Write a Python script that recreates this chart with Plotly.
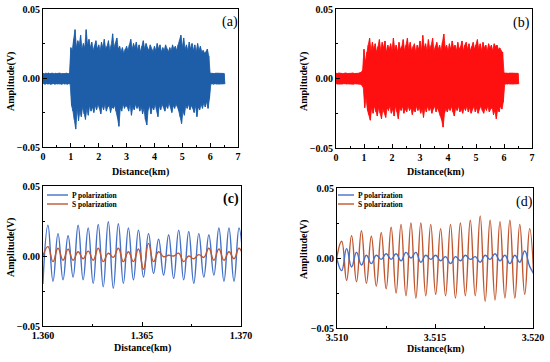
import numpy as np
import plotly.graph_objects as go

# ---------------- data ----------------
# Panels (a)/(b): envelope of the full trace, read per 0.05 km bin (0.00 ... 6.50 km)
bin_km = np.round(np.arange(131) * 0.05, 2)

a_upper = (
    [0.0033, 0.0030, 0.0035, 0.0032, 0.0036, 0.0031, 0.0034, 0.0035, 0.0030, 0.0034,
     0.0032, 0.0033, 0.0036, 0.0031, 0.0034, 0.0032, 0.0033, 0.0035, 0.0031, 0.0034]
    + [0.022, 0.020, 0.028, 0.035, 0.022, 0.027, 0.024, 0.031, 0.021, 0.025,
       0.022, 0.035, 0.024, 0.028, 0.022, 0.026, 0.020, 0.023, 0.027, 0.021,
       0.024, 0.020, 0.026, 0.022, 0.028, 0.021, 0.023, 0.027, 0.020, 0.024,
       0.032, 0.022, 0.025, 0.029, 0.021, 0.023, 0.019, 0.022, 0.018, 0.021,
       0.023, 0.020, 0.024, 0.028, 0.021, 0.025, 0.022, 0.026, 0.020, 0.024,
       0.019, 0.023, 0.027, 0.021, 0.025, 0.022, 0.020, 0.024, 0.021, 0.019,
       0.023, 0.020, 0.025, 0.021, 0.024, 0.019, 0.022, 0.020, 0.024, 0.021,
       0.019, 0.022, 0.020, 0.024, 0.021, 0.023, 0.020, 0.024, 0.027, 0.031,
       0.022, 0.029, 0.021, 0.024, 0.020, 0.026, 0.021, 0.025, 0.020, 0.024,
       0.019, 0.025, 0.020, 0.023, 0.019, 0.020, 0.018, 0.019, 0.021, 0.016]
    + [0.0035, 0.0033, 0.0036, 0.0032, 0.0035, 0.0034, 0.0036, 0.0033, 0.0035, 0.0034, 0.0033]
)
a_lower = (
    [-0.0042, -0.0045, -0.0040, -0.0044, -0.0041, -0.0046, -0.0043, -0.0040, -0.0045, -0.0042,
     -0.0044, -0.0041, -0.0043, -0.0046, -0.0040, -0.0044, -0.0042, -0.0045, -0.0041, -0.0043]
    + [-0.020, -0.024, -0.030, -0.037, -0.022, -0.031, -0.024, -0.028, -0.021, -0.026,
       -0.030, -0.022, -0.027, -0.020, -0.024, -0.021, -0.025, -0.020, -0.023, -0.019,
       -0.022, -0.026, -0.020, -0.023, -0.019, -0.024, -0.021, -0.020, -0.025, -0.021,
       -0.022, -0.020, -0.024, -0.029, -0.035, -0.022, -0.024, -0.019, -0.022, -0.020,
       -0.021, -0.024, -0.019, -0.027, -0.021, -0.023, -0.019, -0.022, -0.020, -0.024,
       -0.021, -0.026, -0.022, -0.030, -0.034, -0.023, -0.020, -0.026, -0.021, -0.023,
       -0.019, -0.022, -0.028, -0.020, -0.023, -0.019, -0.021, -0.024, -0.020, -0.022,
       -0.018, -0.021, -0.025, -0.020, -0.022, -0.019, -0.021, -0.024, -0.028, -0.033,
       -0.024, -0.027, -0.020, -0.022, -0.019, -0.023, -0.020, -0.022, -0.025, -0.020,
       -0.028, -0.021, -0.023, -0.019, -0.022, -0.018, -0.021, -0.017, -0.022, -0.015]
    + [-0.0044, -0.0042, -0.0045, -0.0041, -0.0044, -0.0043, -0.0045, -0.0042, -0.0044, -0.0043, -0.0042]
)

b_upper = (
    [0.0038, 0.0036, 0.0040, 0.0037, 0.0039, 0.0035, 0.0038, 0.0040, 0.0036, 0.0039,
     0.0037, 0.0038, 0.0040, 0.0036, 0.0039, 0.0037, 0.0038, 0.0041, 0.0045, 0.0060]
    + [0.021, 0.012, 0.019, 0.024, 0.029, 0.020, 0.026, 0.021, 0.025, 0.019,
       0.023, 0.028, 0.020, 0.026, 0.022, 0.027, 0.019, 0.024, 0.021, 0.025,
       0.020, 0.029, 0.021, 0.024, 0.019, 0.026, 0.021, 0.023, 0.028, 0.020,
       0.024, 0.029, 0.021, 0.026, 0.020, 0.023, 0.025, 0.019, 0.024, 0.021,
       0.027, 0.020, 0.031, 0.022, 0.025, 0.020, 0.028, 0.021, 0.024, 0.029,
       0.020, 0.023, 0.026, 0.021, 0.024, 0.020, 0.026, 0.032, 0.022, 0.024,
       0.020, 0.025, 0.021, 0.027, 0.022, 0.024, 0.020, 0.026, 0.021, 0.023,
       0.027, 0.020, 0.024, 0.026, 0.021, 0.025, 0.020, 0.023, 0.026, 0.021,
       0.024, 0.028, 0.021, 0.025, 0.020, 0.026, 0.022, 0.024, 0.020, 0.025,
       0.022, 0.024, 0.020, 0.025, 0.023, 0.024, 0.021, 0.022, 0.020, 0.019]
    + [0.0040, 0.0038, 0.0040, 0.0037, 0.0039, 0.0038, 0.0040, 0.0037, 0.0039, 0.0038, 0.0037]
)
b_lower = (
    [-0.0040, -0.0038, -0.0041, -0.0039, -0.0040, -0.0037, -0.0040, -0.0041, -0.0038, -0.0040,
     -0.0039, -0.0040, -0.0041, -0.0038, -0.0040, -0.0039, -0.0040, -0.0042, -0.0048, -0.0065]
    + [-0.021, -0.014, -0.023, -0.026, -0.030, -0.021, -0.025, -0.020, -0.024, -0.027,
       -0.021, -0.025, -0.029, -0.022, -0.024, -0.028, -0.021, -0.023, -0.020, -0.025,
       -0.022, -0.027, -0.020, -0.024, -0.029, -0.021, -0.023, -0.020, -0.025, -0.022,
       -0.024, -0.020, -0.023, -0.021, -0.026, -0.022, -0.024, -0.020, -0.023, -0.021,
       -0.025, -0.022, -0.028, -0.021, -0.024, -0.020, -0.023, -0.021, -0.025, -0.022,
       -0.020, -0.024, -0.021, -0.023, -0.027, -0.030, -0.035, -0.025, -0.022, -0.024,
       -0.021, -0.023, -0.020, -0.024, -0.027, -0.021, -0.023, -0.020, -0.024, -0.022,
       -0.025, -0.021, -0.023, -0.020, -0.024, -0.021, -0.025, -0.022, -0.020, -0.024,
       -0.021, -0.025, -0.022, -0.020, -0.023, -0.025, -0.021, -0.023, -0.020, -0.024,
       -0.022, -0.021, -0.026, -0.023, -0.029, -0.022, -0.024, -0.020, -0.022, -0.017]
    + [-0.0041, -0.0039, -0.0041, -0.0038, -0.0040, -0.0039, -0.0041, -0.0038, -0.0040, -0.0039, -0.0038]
)

# Panels (c)/(d): successive extrema (trough, peak, trough, ...) of the zoomed traces
c_dist = np.linspace(1.359996, 1.370154, 41)
c_p_polar = [-0.020,
             0.022, -0.018, 0.016, -0.017, 0.0145, -0.015, 0.022, -0.017, 0.020, -0.0195,
             0.0225, -0.022, 0.0245, -0.023, 0.023, -0.0195, 0.020, -0.017, 0.0185, -0.015,
             0.016, -0.0124, 0.012, -0.0136, 0.015, -0.016, 0.0185, -0.017, 0.0175, -0.0195,
             0.016, -0.015, 0.015, -0.0136, 0.020, -0.018, 0.020, -0.018, 0.020, -0.018]
c_s_polar = [0.000,
             0.0067, -0.004, 0.0055, -0.003, 0.0048, -0.003, 0.003, -0.002, 0.0035, -0.003,
             0.0055, -0.004, 0.002, -0.001, 0.0055, -0.004, 0.003, -0.004, 0.005, -0.0095,
             0.009, -0.004, 0.003, -0.0005, 0.0005, 0.0, 0.002, -0.004, 0.0, -0.002,
             0.001, -0.001, 0.0055, -0.003, 0.005, -0.003, 0.003, -0.002, 0.0055, -0.004]

d_dist = np.linspace(3.5099855, 3.5200825, 41)
d_p_polar = [0.000,
             -0.009, 0.0067, -0.0064, 0.004, -0.005, 0.002, -0.004, 0.002, -0.001, 0.003,
             -0.001, 0.003, -0.002, 0.004, 0.000, 0.004, -0.003, 0.002, -0.001, 0.002,
             -0.002, 0.001, -0.004, 0.001, -0.002, 0.002, -0.001, 0.001, -0.003, 0.002,
             -0.001, 0.003, -0.002, 0.002, -0.004, 0.002, -0.003, 0.005, -0.006, -0.012]
d_s_polar = [0.000,
             0.012, -0.016, 0.016, -0.017, 0.0195, -0.018, 0.0155, -0.020, 0.018, -0.022,
             0.022, -0.025, 0.024, -0.027, 0.025, -0.0286, 0.025, -0.027, 0.024, -0.026,
             0.021, -0.027, 0.024, -0.0286, 0.025, -0.027, 0.027, -0.027, 0.030, -0.031,
             0.027, -0.030, 0.026, -0.0286, 0.027, -0.0286, 0.024, -0.026, 0.021, -0.028]

y_ticks = [-0.05, 0.0, 0.05]
legend_names = ["P polarization", "S polarization"]
panel_tags = ["(a)", "(b)", "(c)", "(d)"]

# ---------------- style ----------------
FONT = "Liberation Serif, Times New Roman, serif"
W, H = 550, 362
BLUE_A = "#1E5EA8"
RED_B = "#FF1010"
P_COL = "#4470C8"
S_COL = "#C0562F"
SMOOTH = 1.3


def zigzag(x, up, lo, half=0.025):
    x = np.asarray(x, float)
    xs = np.empty(2 * len(x))
    ys = np.empty(2 * len(x))
    xs[0::2] = x
    xs[1::2] = x + half
    ys[0::2] = up
    ys[1::2] = lo
    return xs, ys


def band(x, up, lo, half=0.025):
    x = np.asarray(x, float)
    xs = np.concatenate([x, (x + half)[::-1], x[:1]])
    ys = np.concatenate([np.asarray(up), np.asarray(lo)[::-1], np.asarray(up)[:1]])
    return xs, ys


def px(xp):
    return xp / W


def py(yp):
    return 1 - yp / H


fig = go.Figure()

for (xax, yax, up, lo, col) in [("x", "y", a_upper, a_lower, BLUE_A),
                                ("x2", "y2", b_upper, b_lower, RED_B)]:
    bx, by = band(bin_km, up, lo)
    fig.add_trace(go.Scatter(x=bx, y=by, mode="lines", fill="toself", fillcolor=col,
                             line=dict(color=col, width=0.8), hoverinfo="skip",
                             xaxis=xax, yaxis=yax, showlegend=False))
    zx, zy = zigzag(bin_km, up, lo)
    fig.add_trace(go.Scatter(x=zx, y=zy, mode="lines", line=dict(color=col, width=0.8),
                             xaxis=xax, yaxis=yax, showlegend=False))

for (xax, yax, xs, ys, col) in [("x3", "y3", c_dist, c_p_polar, P_COL),
                                ("x3", "y3", c_dist, c_s_polar, S_COL),
                                ("x4", "y4", d_dist, d_s_polar, S_COL),
                                ("x4", "y4", d_dist, d_p_polar, P_COL)]:
    fig.add_trace(go.Scatter(x=xs, y=ys, mode="lines",
                             line=dict(color=col, width=1.4, shape="spline", smoothing=SMOOTH),
                             xaxis=xax, yaxis=yax, showlegend=False))

tickfont = dict(family=FONT, size=10, color="black", weight="bold")


def xaxis(domain, rng, tickvals, fmt, minor_dtick, anchor):
    return dict(domain=domain, range=rng, tickvals=tickvals, tickformat=fmt,
                ticks="inside", ticklen=4, tickwidth=1, tickcolor="black",
                showline=True, linecolor="black", linewidth=1, mirror=True,
                showgrid=False, zeroline=False, tickfont=tickfont, anchor=anchor,
                automargin=False,
                minor=dict(tick0=rng[0], dtick=minor_dtick, ticks="inside", ticklen=2,
                           tickcolor="black", showgrid=False))


def yaxis(domain, anchor):
    return dict(domain=domain, range=[-0.05, 0.05], tickvals=y_ticks, tickformat=".2f",
                ticks="inside", ticklen=4, tickwidth=1, tickcolor="black",
                showline=True, linecolor="black", linewidth=1, mirror=True,
                showgrid=False, zeroline=False, tickfont=tickfont, anchor=anchor,
                automargin=False,
                minor=dict(tick0=-0.05, dtick=0.025, ticks="inside", ticklen=2,
                           tickcolor="black", showgrid=False))


fig.update_layout(
    width=W, height=H, margin=dict(l=0, r=0, t=0, b=0, autoexpand=False),
    paper_bgcolor="white", plot_bgcolor="white", showlegend=False,
    xaxis=xaxis([px(43), px(238)], [0, 7], list(range(8)), "d", 0.5, "y"),
    yaxis=yaxis([py(147), py(9)], "x"),
    xaxis2=xaxis([px(336), px(532)], [0, 7], list(range(8)), "d", 0.5, "y2"),
    yaxis2=yaxis([py(148), py(9)], "x2"),
    xaxis3=xaxis([px(43), px(241)], [1.360, 1.370], [1.360, 1.365, 1.370], ".3f", 0.0025, "y3"),
    yaxis3=yaxis([py(326), py(186)], "x3"),
    xaxis4=xaxis([px(337), px(533)], [3.510, 3.520], [3.510, 3.515, 3.520], ".3f", 0.0025, "y4"),
    yaxis4=yaxis([py(328), py(188)], "x4"),
)

title_font = dict(family=FONT, size=10, color="black", weight="bold")
ann = []
for (x, y) in [(140.5, 172), (435, 172), (142.5, 348), (435.5, 349)]:
    ann.append(dict(x=px(x), y=py(y), xref="paper", yref="paper", text="Distance(km)",
                    showarrow=False, font=title_font, xanchor="center", yanchor="middle"))
for (x, y) in [(11, 82), (304, 82), (11, 248), (304, 250)]:
    ann.append(dict(x=px(x), y=py(y), xref="paper", yref="paper", text="Amplitude(V)",
                    textangle=-90, showarrow=False, font=title_font,
                    xanchor="center", yanchor="middle"))
tag_pos = [(230, 22, "normal"), (521, 23, "normal"), (231, 199, "bold"), (524, 202, "normal")]
for tag, (x, y, wgt) in zip(panel_tags, tag_pos):
    ann.append(dict(x=px(x), y=py(y), xref="paper", yref="paper", text=tag, showarrow=False,
                    font=dict(family=FONT, size=14, color="black", weight=wgt),
                    xanchor="center", yanchor="middle"))

# legends drawn inside (c) and (d)
leg_font = dict(family=FONT, size=7.5, color="black", weight="bold")
shapes = []
for (x0, x1, tx, y1, y2) in [(47, 68, 70, 195, 204), (338, 354, 356, 195, 204)]:
    for yy, col, name in [(y1, P_COL, legend_names[0]), (y2, S_COL, legend_names[1])]:
        shapes.append(dict(type="line", xref="paper", yref="paper",
                           x0=px(x0), x1=px(x1), y0=py(yy), y1=py(yy),
                           line=dict(color=col, width=1.4)))
        ann.append(dict(x=px(tx), y=py(yy), xref="paper", yref="paper", text=name,
                        showarrow=False, font=leg_font, xanchor="left", yanchor="middle"))

fig.update_layout(annotations=ann, shapes=shapes)
fig.write_html("out.html", config={"displayModeBar": False},
               post_script="document.body.style.margin='0';document.body.style.overflow='hidden';")
